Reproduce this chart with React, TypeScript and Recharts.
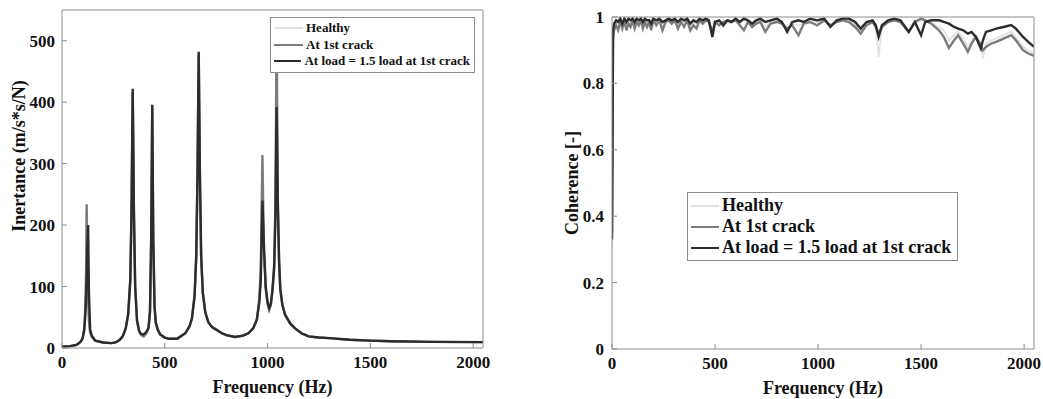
import { LineChart, Line, XAxis, YAxis, Legend, Label } from "recharts"

// inertance FRF (left panel)
const FRF_FREQ = [
  0, 40, 70, 90, 100, 108, 113, 117, 120, 124,
  127, 131, 137, 145, 162, 200, 240, 260, 280, 295,
  310, 322, 332, 338, 344, 350, 356, 365, 375, 385,
  397, 410, 421, 428, 434, 439, 444, 450, 456, 466,
  478, 500, 520, 560, 600, 620, 632, 645, 653, 659,
  665, 671, 677, 685, 697, 712, 730, 778, 800, 842,
  880, 907, 930, 948, 960, 967, 975, 982, 991, 1000,
  1008, 1016, 1024, 1032, 1038, 1044, 1050, 1056, 1062, 1072,
  1085, 1110, 1134, 1165, 1199, 1250, 1300, 1400, 1500, 1600,
  1800, 2048,
]
const FRF_HEALTHY = [
  2.5, 3, 5, 10, 16, 31, 62, 115, 225, 115,
  76, 43, 24, 17, 11.5, 8.5, 7.5, 8.5, 12.5, 18.5,
  31, 54, 106, 210, 410, 210, 96, 43, 26, 20,
  17, 22, 31, 57, 172, 385, 172, 66, 40, 28,
  21, 16.5, 14.5, 14.5, 23, 34, 47, 83, 145, 270,
  475, 270, 145, 88, 56, 41, 33, 23, 20.5, 17.5,
  19.5, 23, 31, 45, 78, 125, 300, 155, 92, 70,
  60, 68, 92, 130, 225, 480, 235, 140, 94, 69,
  53, 39, 31, 23.5, 18.5, 16.5, 15.5, 13, 11.5, 10.5,
  9.5, 9,
]
const FRF_CRACK = [
  2.5, 3, 5, 10, 16, 32, 65, 120, 234, 120,
  80, 45, 25, 18, 12, 9, 8, 9, 13, 19,
  32, 55, 108, 215, 415, 215, 98, 44, 27, 21,
  19, 24, 32, 58, 175, 390, 175, 68, 41, 29,
  22, 17, 15, 15, 24, 35, 48, 85, 148, 275,
  478, 275, 148, 90, 58, 42, 34, 24, 21, 18,
  20, 24, 32, 47, 80, 130, 314, 160, 95, 72,
  62, 70, 95, 135, 230, 520, 240, 145, 97, 71,
  55, 40, 32, 24, 19, 17, 16, 13.5, 12, 11,
  10, 9.5,
]
const FRF_LOAD = [
  2.5, 3, 5, 10, 15, 28, 50, 80, 110, 175,
  200, 90, 30, 20, 12, 9, 8, 9, 13, 19,
  32, 55, 110, 220, 422, 220, 100, 45, 28, 23,
  22, 26, 33, 60, 180, 396, 180, 70, 42, 30,
  22, 17, 15, 15, 24, 35, 48, 85, 150, 280,
  482, 280, 150, 90, 58, 42, 34, 24, 21, 18,
  20, 24, 32, 46, 75, 110, 240, 170, 100, 75,
  65, 72, 95, 130, 210, 392, 230, 140, 95, 70,
  54, 40, 32, 24, 19, 17, 16, 13.5, 12, 11,
  10, 9.5,
]

// coherence (right panel)
const COH_FREQ = [
  0, 5, 10, 20, 30, 40, 50, 60, 70, 80,
  90, 100, 110, 120, 130, 140, 150, 160, 170, 180,
  190, 200, 215, 230, 245, 260, 275, 290, 305, 320,
  335, 350, 365, 380, 395, 410, 425, 440, 455, 470,
  487, 500, 520, 540, 560, 580, 600, 620, 640, 660,
  680, 700, 720, 744, 770, 800, 825, 850, 875, 905,
  930, 960, 996, 1030, 1060, 1090, 1120, 1150, 1180, 1207,
  1235, 1265, 1280, 1294, 1310, 1340, 1370, 1400, 1440, 1470,
  1500, 1520, 1550, 1587, 1610, 1635, 1660, 1680, 1705, 1727,
  1745, 1766, 1790, 1800, 1815, 1840, 1864, 1900, 1937, 1960,
  1995, 2020, 2048,
]
const COH_HEALTHY = [
  0.3, 0.95, 0.975, 0.985, 0.98, 0.99, 0.975, 0.99, 0.98, 0.99,
  0.985, 0.99, 0.98, 0.99, 0.985, 0.99, 0.98, 0.99, 0.985, 0.99,
  0.975, 0.99, 0.985, 0.99, 0.98, 0.985, 0.99, 0.985, 0.99, 0.98,
  0.99, 0.985, 0.99, 0.975, 0.985, 0.98, 0.99, 0.985, 0.99, 0.985,
  0.95, 0.98, 0.985, 0.97, 0.985, 0.98, 0.99, 0.98, 0.99, 0.985,
  0.975, 0.985, 0.99, 0.97, 0.985, 0.99, 0.98, 0.96, 0.98, 0.975,
  0.98, 0.99, 0.985, 0.99, 0.97, 0.985, 0.99, 0.99, 0.98, 0.96,
  0.98, 0.985, 0.97, 0.88, 0.97, 0.985, 0.99, 0.985, 0.955, 0.98,
  0.99, 0.985, 0.98, 0.97, 0.96, 0.93, 0.945, 0.955, 0.935, 0.91,
  0.93, 0.945, 0.92, 0.875, 0.92, 0.93, 0.935, 0.945, 0.955, 0.94,
  0.91, 0.9, 0.89,
]
const COH_CRACK = [
  0.35, 0.93, 0.96, 0.975, 0.96, 0.985, 0.965, 0.99, 0.96, 0.98,
  0.97, 0.99, 0.965, 0.985, 0.975, 0.99, 0.965, 0.985, 0.97, 0.985,
  0.96, 0.99, 0.975, 0.99, 0.96, 0.985, 0.99, 0.98, 0.99, 0.965,
  0.985, 0.97, 0.99, 0.96, 0.975, 0.965, 0.99, 0.98, 0.99, 0.985,
  0.955, 0.985, 0.975, 0.985, 0.99, 0.985, 0.99, 0.975, 0.96, 0.985,
  0.97, 0.98, 0.985, 0.955, 0.98, 0.985, 0.98, 0.965, 0.975, 0.945,
  0.98, 0.985, 0.975, 0.99, 0.975, 0.985, 0.99, 0.985, 0.97, 0.95,
  0.975, 0.985, 0.97, 0.95, 0.97, 0.985, 0.99, 0.985, 0.955, 0.985,
  0.995, 0.99, 0.98, 0.96, 0.94, 0.907, 0.93, 0.945, 0.92, 0.895,
  0.92, 0.94, 0.915, 0.9, 0.91, 0.92, 0.925, 0.935, 0.945, 0.93,
  0.9, 0.89, 0.883,
]
const COH_LOAD = [
  0.33, 0.96, 0.98, 0.99, 0.985, 0.995, 0.98, 0.995, 0.985, 0.995,
  0.99, 0.995, 0.985, 0.995, 0.99, 0.995, 0.985, 0.995, 0.99, 0.99,
  0.98, 0.995, 0.99, 0.995, 0.985, 0.99, 0.995, 0.99, 0.995, 0.985,
  0.995, 0.99, 0.995, 0.98, 0.99, 0.985, 0.995, 0.99, 0.995, 0.99,
  0.94, 0.985, 0.99, 0.975, 0.99, 0.985, 0.995, 0.985, 0.995, 0.99,
  0.98, 0.99, 0.995, 0.985, 0.99, 0.995, 0.985, 0.955, 0.985, 0.99,
  0.985, 0.995, 0.99, 0.995, 0.97, 0.99, 0.995, 0.995, 0.985, 0.965,
  0.985, 0.99, 0.975, 0.94, 0.975, 0.99, 0.995, 0.99, 0.955, 0.985,
  0.945, 0.985, 0.99, 0.99, 0.985, 0.98, 0.97, 0.965, 0.96, 0.95,
  0.955, 0.94, 0.905, 0.93, 0.955, 0.96, 0.965, 0.97, 0.976, 0.965,
  0.94, 0.925, 0.91,
]

const FREQ_TICKS = [0, 500, 1000, 1500, 2000]
const FRF_TICKS = [0, 100, 200, 300, 400, 500]
const COH_TICKS = [0, 0.2, 0.4, 0.6, 0.8, 1]

const SERIES = [
  { key: "healthy", name: "Healthy", color: "#e2e2e2", width: 1.8 },
  { key: "crack", name: "At 1st crack", color: "#7c7c7c", width: 2.4 },
  { key: "load", name: "At load = 1.5 load at 1st crack", color: "#2c2c2c", width: 2.4 },
]

const FONT = '"Liberation Serif", "Times New Roman", Times, serif'
const AXIS_GREY = "#8c8c8c"
const tickStyle = { fontFamily: FONT, fontWeight: "bold", fontSize: 17, fill: "#111" }

const frfData = FRF_FREQ.map((f, i) => ({
  f,
  healthy: FRF_HEALTHY[i],
  crack: FRF_CRACK[i],
  load: FRF_LOAD[i],
}))
const cohData = COH_FREQ.map((f, i) => ({
  f,
  healthy: COH_HEALTHY[i],
  crack: COH_CRACK[i],
  load: COH_LOAD[i],
}))

function LegendBox({ fontSize, rowHeight, sample }: { fontSize: number; rowHeight: number; sample: number }) {
  return (
    <div
      style={{
        border: `1px solid ${AXIS_GREY}`,
        background: "#fff",
        padding: "2px 4px 2px 3px",
        fontFamily: FONT,
        fontWeight: "bold",
        fontSize,
        color: "#111",
        boxSizing: "border-box",
      }}
    >
      {SERIES.map((s) => (
        <div key={s.key} style={{ display: "flex", alignItems: "center", height: rowHeight, whiteSpace: "nowrap" }}>
          <span style={{ display: "inline-block", width: sample, borderTop: `2px solid ${s.color}`, marginRight: 3 }} />
          <span>{s.name}</span>
        </div>
      ))}
    </div>
  )
}

function xLabel(text: string) {
  return (p: any) => {
    const vb = p.viewBox || { x: 0, y: 0, width: 0 }
    return (
      <text x={vb.x + vb.width / 2} y={vb.y + 45} textAnchor="middle" style={{ fontFamily: FONT, fontWeight: "bold", fontSize: 18, fill: "#111" }}>
        {text}
      </text>
    )
  }
}

function yLabel(text: string, x: number, cy: number) {
  return () => (
    <text x={x} y={cy} textAnchor="middle" transform={`rotate(-90, ${x}, ${cy})`} style={{ fontFamily: FONT, fontWeight: "bold", fontSize: 18, fill: "#111" }}>
      {text}
    </text>
  )
}

function seriesLines() {
  return SERIES.map((s) => (
    <Line
      key={s.key}
      type="linear"
      dataKey={s.key}
      name={s.name}
      stroke={s.color}
      strokeWidth={s.width}
      dot={false}
      activeDot={false}
      isAnimationActive={false}
    />
  ))
}

export default function App() {
  return (
    <div style={{ position: "absolute", left: 0, top: 0, width: 1043, height: 399, background: "#fff", fontFamily: FONT }}>
      <div style={{ position: "absolute", left: 0, top: 0 }}>
        <LineChart width={500} height={399} data={frfData} margin={{ top: 9, right: 16, bottom: 21, left: 0 }} style={{ fontFamily: FONT }}>
          <XAxis
            dataKey="f"
            type="number"
            domain={[0, 2048]}
            allowDataOverflow
            ticks={FREQ_TICKS}
            height={30}
            stroke={AXIS_GREY}
            tickSize={-5}
            tickMargin={13}
            tick={tickStyle}
          >
            <Label content={xLabel("Frequency (Hz)")} />
          </XAxis>
          <XAxis xAxisId="top" orientation="top" type="number" domain={[0, 2048]} allowDataOverflow ticks={FREQ_TICKS} height={1} stroke={AXIS_GREY} tickSize={-5} tick={false} />
          <YAxis
            type="number"
            domain={[0, 550]}
            allowDataOverflow
            ticks={FRF_TICKS}
            width={62}
            stroke={AXIS_GREY}
            tickSize={-5}
            tickMargin={12}
            tick={tickStyle}
          >
            <Label content={yLabel("Inertance (m/s*s/N)", 25, 156)} />
          </YAxis>
          <YAxis yAxisId="right" orientation="right" type="number" domain={[0, 550]} allowDataOverflow ticks={FRF_TICKS} width={1} stroke={AXIS_GREY} tickSize={-5} tick={false} />
          {seriesLines()}
          <Legend
            layout="vertical"
            align="center"
            verticalAlign="middle"
            wrapperStyle={{ left: 270, top: 17, width: 205 }}
            content={() => <LegendBox fontSize={13} rowHeight={16.5} sample={29} />}
          />
        </LineChart>
      </div>
      <div style={{ position: "absolute", left: 520, top: 0 }}>
        <LineChart width={523} height={399} data={cohData} margin={{ top: 16, right: 8, bottom: 20, left: 0 }} style={{ fontFamily: FONT }}>
          <XAxis
            dataKey="f"
            type="number"
            domain={[0, 2048]}
            allowDataOverflow
            ticks={FREQ_TICKS}
            height={30}
            stroke={AXIS_GREY}
            tickSize={-5}
            tickMargin={13}
            tick={tickStyle}
          >
            <Label content={xLabel("Frequency (Hz)")} />
          </XAxis>
          <XAxis xAxisId="top" orientation="top" type="number" domain={[0, 2048]} allowDataOverflow ticks={FREQ_TICKS} height={1} stroke={AXIS_GREY} tickSize={-5} tick={false} />
          <YAxis
            type="number"
            domain={[0, 1]}
            allowDataOverflow
            ticks={COH_TICKS}
            width={92}
            stroke={AXIS_GREY}
            tickSize={-5}
            tickMargin={13}
            tick={tickStyle}
          >
            <Label content={yLabel("Coherence [-]", 58, 183)} />
          </YAxis>
          <YAxis yAxisId="right" orientation="right" type="number" domain={[0, 1]} allowDataOverflow ticks={COH_TICKS} width={1} stroke={AXIS_GREY} tickSize={-5} tick={false} />
          {seriesLines()}
          <Legend
            layout="vertical"
            align="center"
            verticalAlign="middle"
            wrapperStyle={{ left: 167, top: 192, width: 271 }}
            content={() => <LegendBox fontSize={18} rowHeight={21} sample={28} />}
          />
        </LineChart>
      </div>
    </div>
  )
}
